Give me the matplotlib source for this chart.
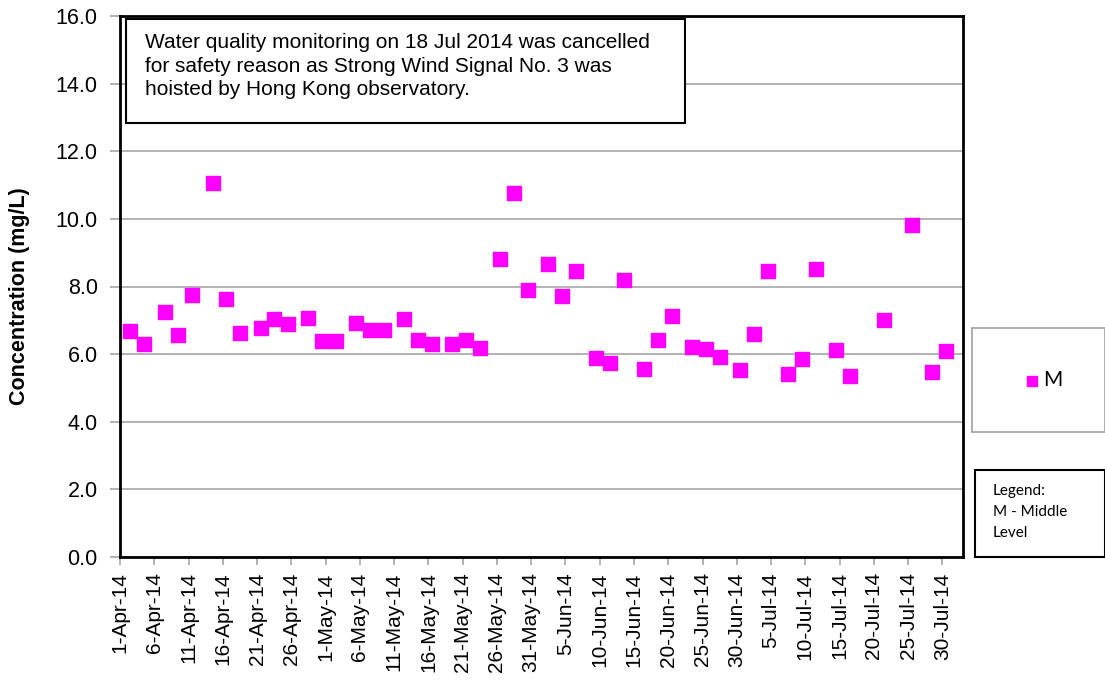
import datetime as dt
import matplotlib
matplotlib.use("Agg")
import matplotlib.pyplot as plt
from matplotlib.patches import Rectangle

# sampling dates (Mon/Wed/Fri) and middle level concentrations
dates = ["2014-04-02", "2014-04-04", "2014-04-07", "2014-04-09", "2014-04-11",
         "2014-04-14", "2014-04-16", "2014-04-18", "2014-04-21", "2014-04-23",
         "2014-04-25", "2014-04-28", "2014-04-30", "2014-05-02", "2014-05-05",
         "2014-05-07", "2014-05-09", "2014-05-12", "2014-05-14", "2014-05-16",
         "2014-05-19", "2014-05-21", "2014-05-23", "2014-05-26", "2014-05-28",
         "2014-05-30", "2014-06-02", "2014-06-04", "2014-06-06", "2014-06-09",
         "2014-06-11", "2014-06-13", "2014-06-16", "2014-06-18", "2014-06-20",
         "2014-06-23", "2014-06-25", "2014-06-27", "2014-06-30", "2014-07-02",
         "2014-07-04", "2014-07-07", "2014-07-09", "2014-07-11", "2014-07-14",
         "2014-07-16", "2014-07-21", "2014-07-25", "2014-07-28", "2014-07-30"]
middle = [6.68, 6.29, 7.24, 6.56, 7.75, 11.07, 7.62, 6.62, 6.77, 7.04,
          6.88, 7.07, 6.38, 6.38, 6.91, 6.72, 6.71, 7.04, 6.42, 6.29,
          6.31, 6.41, 6.18, 8.82, 10.77, 7.90, 8.66, 7.71, 8.46, 5.90,
          5.74, 8.19, 5.56, 6.41, 7.12, 6.22, 6.16, 5.91, 5.52, 6.59,
          8.45, 5.42, 5.85, 8.53, 6.12, 5.34, 7.01, 9.83, 5.47, 6.10]

note = ("Water quality monitoring on 18 Jul 2014 was cancelled\n"
        "for safety reason as Strong Wind Signal No. 3 was\n"
        "hoisted by Hong Kong observatory.")

W, H = 1105, 680
fig = plt.figure(figsize=(W / 100, H / 100), dpi=100)
ax = fig.add_axes([120 / W, 1 - 557 / H, (963 - 120) / W, (557 - 16) / H])

# excel puts the points in the middle of the day
x = [dt.datetime.strptime(d, "%Y-%m-%d") + dt.timedelta(hours=12) for d in dates]
pts = ax.scatter(x, middle, marker="s", s=100, color="#FF00FF", zorder=3, label="M")

ax.set_ylim(0, 16)
ax.set_yticks(range(0, 17, 2))
ax.set_yticklabels(["%.1f" % v for v in range(0, 17, 2)], fontsize=15.5,
                   family="Liberation Sans")
ax.grid(axis="y", color="#A6A6A6", linewidth=1.2)
ax.set_axisbelow(True)

start = dt.datetime(2014, 4, 1)
ax.set_xlim(start, dt.datetime(2014, 8, 2))
ticks = [start + dt.timedelta(days=5 * i) for i in range(25)]
ax.set_xticks(ticks)
ax.set_xticklabels([f"{t.day}-{t:%b-%y}" for t in ticks], rotation=90,
                   fontsize=15, family="Liberation Sans")
ax.tick_params(axis="both", color="#A6A6A6", length=7, width=1.2)
ax.tick_params(axis="y", pad=9)
ax.tick_params(axis="x", length=6, pad=5)

for s in ax.spines.values():
    s.set_linewidth(2)
    s.set_color("black")

fig.text(20 / W, 1 - 296 / H, "Concentration (mg/L)", fontsize=15.5,
         fontweight="bold", family="Liberation Sans", rotation=90,
         ha="center", va="center")

# note box
fig.patches.append(Rectangle((126 / W, 1 - 123 / H), (685 - 126) / W, (123 - 19) / H,
                             transform=fig.transFigure, facecolor="white",
                             edgecolor="black", linewidth=1.5, zorder=5))
fig.text(145 / W, 1 - 33 / H, note, fontsize=15, family="Liberation Sans",
         va="top", ha="left", linespacing=1.3, zorder=6)

# legend box
fig.patches.append(Rectangle((972 / W, 1 - 432 / H), (W - 972) / W, (432 - 328) / H,
                             transform=fig.transFigure, facecolor="white",
                             edgecolor="#A0A0A0", linewidth=1.2))
fig.legend(handles=[pts], labels=["M"], loc="center",
           bbox_to_anchor=(1042 / W, 1 - 380 / H), frameon=False,
           handletextpad=0.0, handlelength=1.0, markerscale=0.75,
           prop={"family": "Lato", "size": 15})

fig.patches.append(Rectangle((975 / W, 1 - 557 / H), (W - 975) / W, (557 - 470) / H,
                             transform=fig.transFigure, facecolor="white",
                             edgecolor="black", linewidth=1.5))
fig.text(993 / W, 1 - 484 / H, "Legend:\nM - Middle\nLevel", fontsize=11,
         family="Lato", va="top", ha="left", linespacing=1.65)

fig.savefig("out.png", dpi=100)
